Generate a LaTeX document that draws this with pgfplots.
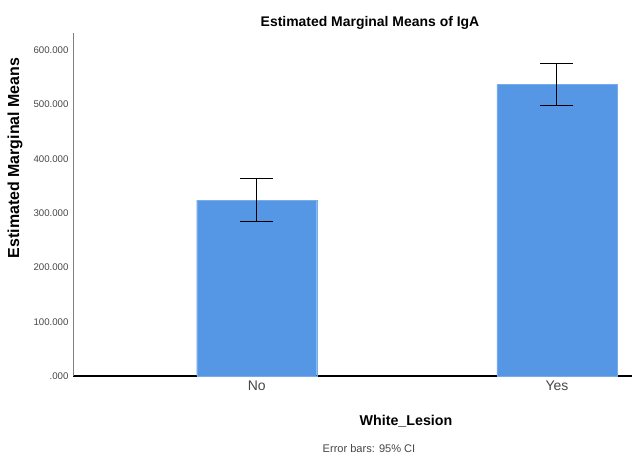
\documentclass[border=0pt]{standalone}
\usepackage{pgfplots}
\pgfplotsset{compat=1.18}
\usepackage{fontspec}
\setmainfont{Liberation Sans}
\definecolor{barblue}{RGB}{85,150,229}
\definecolor{ticklab}{RGB}{70,70,70}
\begin{document}
\begin{tikzpicture}[x=1bp,y=1bp]
\useasboundingbox (0,0) rectangle (632,457);
\begin{axis}[
  at={(73bp,81bp)}, anchor=south west,
  scale only axis, width=559bp, height=343bp,
  xmin=-0.612, xmax=1.25, ymin=0, ymax=632,
  axis x line*=bottom, axis y line*=left,
  x axis line style={black, line width=2.6bp, -},
  y axis line style={gray, line width=0.8bp, -},
  xtick={0,1}, xticklabels={No,Yes},
  ytick={0,100,200,300,400,500,600},
  yticklabels={.000,100.000,200.000,300.000,400.000,500.000,600.000},
  major tick length=0pt,
  xticklabel style={font=\fontsize{14}{16}\selectfont, text=ticklab, yshift=-1bp},
  yticklabel style={font=\fontsize{9.7}{11}\selectfont, text=ticklab, xshift=-1bp},
  clip=false,
]
\addplot[ybar, bar width=120bp, fill=barblue, draw=barblue!80!white,
  error bars/.cd, y dir=both, y explicit,
  error bar style={black, line width=1bp},
  error mark options={rotate=90, mark size=16.5bp, line width=1bp, black}]
  coordinates {(0,324) +- (0,40) (1,537) +- (0,38)};
\end{axis}
\node[font=\bfseries\fontsize{14}{16}\selectfont] at (370,434) {Estimated Marginal Means of IgA};
\node[font=\bfseries\fontsize{16}{18}\selectfont, rotate=90] at (15,299) {Estimated Marginal Means};
\node[font=\bfseries\fontsize{14.3}{16}\selectfont] at (406,36) {White\_Lesion};
\node[font=\fontsize{11.1}{13}\selectfont, text=ticklab] at (369,8) {Error bars: 95\% CI};
\end{tikzpicture}
\end{document}
